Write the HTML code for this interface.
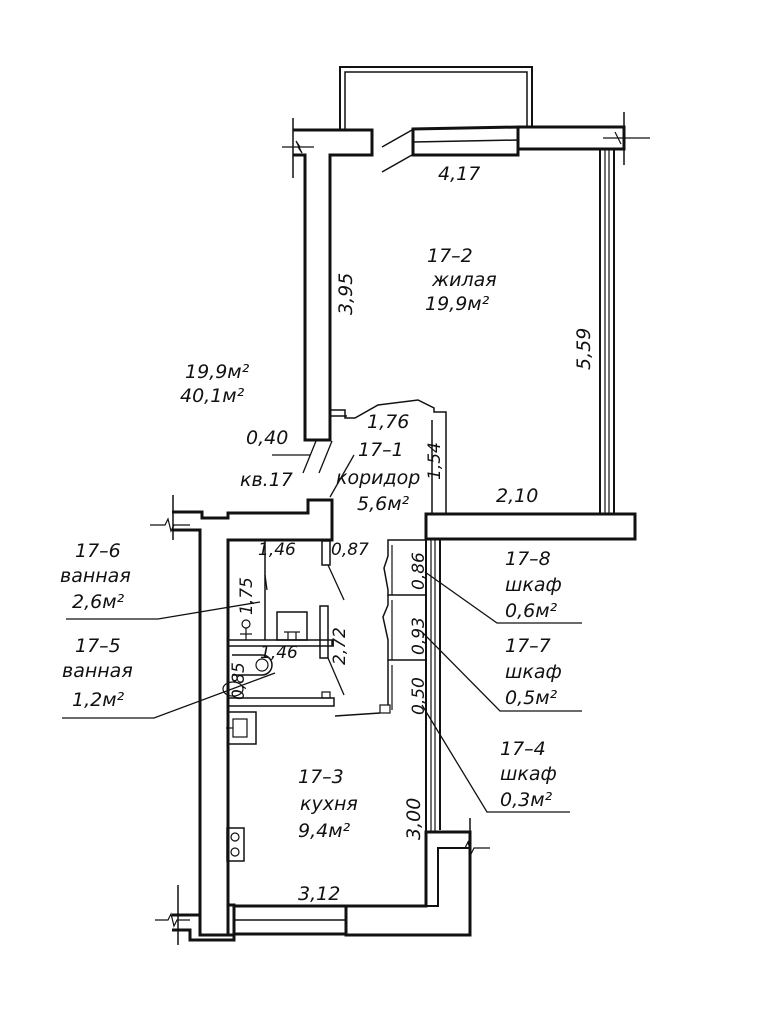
<!DOCTYPE html>
<html><head><meta charset="utf-8"><style>
body{margin:0;background:#fff}
svg{display:block}
text{font-family:"DejaVu Sans","Liberation Sans",sans-serif;font-style:italic;fill:#111}
</style></head><body>
<svg width="768" height="1024" viewBox="0 0 768 1024" xmlns="http://www.w3.org/2000/svg">
<rect width="768" height="1024" fill="#fff"/>
<g fill="none" stroke="#111" stroke-width="3">
<path d="M340 131 V67 H532 V126" stroke-width="2"/>
<path d="M345 131 V72 H527 V126" stroke-width="1.5"/>
<path d="M293 130 H372 V155 H330 V440 H305 V155 H293" fill="#fff"/>
<line x1="293" y1="118" x2="293" y2="178" stroke-width="1.5"/>
<path d="M282 147 H300 L296 141 L302 153 L298 147 H314" stroke-width="1.2"/>
<line x1="382" y1="147" x2="412" y2="130" stroke-width="1.5"/>
<line x1="382" y1="172" x2="412" y2="155" stroke-width="1.5"/>
<path d="M413 129 V155 H518 V127 Z" fill="#fff"/>
<line x1="413" y1="142" x2="518" y2="140" stroke-width="1.5"/>
<path d="M518 127 H624 V149 H518 Z" fill="#fff"/>
<line x1="624" y1="112" x2="624" y2="165" stroke-width="1.5"/>
<path d="M603 138 H618 L615 132 L621 144 L618 138 H650" stroke-width="1.2"/>
<line x1="600" y1="150" x2="600" y2="515" stroke-width="2"/>
<line x1="605" y1="150" x2="605" y2="515" stroke-width="1.2"/>
<line x1="609" y1="150" x2="609" y2="515" stroke-width="1.2"/>
<line x1="614" y1="150" x2="614" y2="515" stroke-width="2"/>
<rect x="426" y="514" width="209" height="25" fill="#fff"/>
<path d="M330 410 H345 V418 H355 L378 405 L418 400 L434 408 V412 H446 V514" stroke-width="1.5"/>
<path d="M432 420 V514" stroke-width="1.5"/>
<path d="M330 416 H347" stroke-width="1.5"/>
<path d="M172 512 H202 V518 H228 V513 H308 V500 H332 V540 H228 V935" />
<path d="M172 530 H200 V935"/>
<line x1="173" y1="495" x2="173" y2="540" stroke-width="1.5"/>
<path d="M150 525 H165 L168 519 L171 531 L174 525 H190" stroke-width="1.2"/>
<path d="M172 915 H200 V935 H234"/>
<path d="M172 930 H190 V940 H234 V905 H228"/>
<line x1="178" y1="885" x2="178" y2="945" stroke-width="1.5"/>
<path d="M155 920 H168 L171 914 L174 926 L177 920 H190" stroke-width="1.2"/>
<rect x="234" y="906" width="112" height="28" fill="#fff"/>
<line x1="234" y1="920" x2="346" y2="920" stroke-width="1.5"/>
<path d="M346 906 H426 V832 H470 V935 H346 Z" fill="#fff"/>
<path d="M426 832 V906 H438 V848 H470" stroke-width="2"/>
<line x1="470" y1="818" x2="470" y2="880" stroke-width="1.5"/>
<path d="M455 848 H465 L468 842 L471 854 L474 848 H490" stroke-width="1.2"/>
<line x1="426" y1="540" x2="426" y2="832" stroke-width="2"/>
<line x1="431" y1="540" x2="431" y2="832" stroke-width="1.2"/>
<line x1="435" y1="540" x2="435" y2="832" stroke-width="1.2"/>
<line x1="440" y1="540" x2="440" y2="830" stroke-width="2"/>
<line x1="265" y1="540" x2="265" y2="640" stroke-width="1.5"/>
<rect x="228" y="640" width="104" height="6" stroke-width="1.5"/>
<rect x="228" y="698" width="106" height="8" stroke-width="1.5"/>
<rect x="320" y="606" width="8" height="52" stroke-width="1.5"/>
<rect x="322" y="541" width="8" height="24" stroke-width="1.5"/>
<rect x="277" y="612" width="30" height="28" stroke-width="1.5"/>
<line x1="288" y1="632" x2="288" y2="640" stroke-width="1.2"/><line x1="296" y1="632" x2="296" y2="640" stroke-width="1.2"/><line x1="284" y1="632" x2="300" y2="632" stroke-width="1.2"/>
<circle cx="246" cy="624" r="4" stroke-width="1.2"/>
<line x1="246" y1="628" x2="246" y2="640" stroke-width="1.2"/><line x1="240" y1="634" x2="252" y2="634" stroke-width="1.2"/>
<path d="M232 655 H262 A9 9 0 0 1 262 675 H232" stroke-width="1.5"/>
<circle cx="262" cy="665" r="6" stroke-width="1.2"/>
<ellipse cx="233" cy="689" rx="10" ry="7" stroke-width="1.2"/>
<rect x="322" y="692" width="8" height="6" stroke-width="1.2"/>
<rect x="228" y="712" width="28" height="32" stroke-width="1.5"/>
<rect x="233" y="719" width="14" height="18" stroke-width="1.2"/>
<line x1="226" y1="728" x2="233" y2="728" stroke-width="1.2"/>
<rect x="227" y="828" width="17" height="33" stroke-width="1.5"/>
<circle cx="235" cy="837" r="4" stroke-width="1.2"/><circle cx="235" cy="852" r="4" stroke-width="1.2"/>
<path d="M426 540 H388 V556 L384 568 L388 590 V595 H426" stroke-width="1.5"/>
<path d="M392 545 V595" stroke-width="1.2"/>
<path d="M388 595 V605 L383 617 L388 640 V660 H426" stroke-width="1.5"/>
<path d="M392 600 V660 M392 665 V710" stroke-width="1.2"/>
<path d="M388 660 V705" stroke-width="1.5"/>
<rect x="380" y="705" width="10" height="8" stroke-width="1.2"/>
<line x1="335" y1="716" x2="380" y2="713" stroke-width="1.5"/>
<g stroke-width="1.3">
<line x1="272" y1="455" x2="310" y2="455"/>
<line x1="303" y1="473" x2="316" y2="441"/><line x1="319" y1="473" x2="332" y2="441"/>
<line x1="330" y1="497" x2="354" y2="455"/>
<line x1="328" y1="565" x2="344" y2="600"/>
<line x1="328" y1="658" x2="344" y2="695"/>
<line x1="265" y1="575" x2="267" y2="590"/>
<polyline points="66,619 158,619 260,602"/>
<polyline points="62,718 154,718 275,673"/>
<polyline points="582,623 497,623 425,572"/>
<polyline points="582,711 500,711 422,632"/>
<polyline points="570,812 487,812 422,705"/>
</g>
</g>
<g font-size="19">
<text x="438" y="180">4,17</text>
<text x="427" y="262">17–2</text>
<text x="432" y="286">жилая</text>
<text x="425" y="310">19,9м²</text>
<text x="185" y="378">19,9м²</text>
<text x="180" y="402">40,1м²</text>
<text x="246" y="444">0,40</text>
<text x="367" y="428">1,76</text>
<text x="358" y="456">17–1</text>
<text x="336" y="484">коридор</text>
<text x="357" y="510">5,6м²</text>
<text x="240" y="486">кв.17</text>
<text x="496" y="502">2,10</text>
<text x="258" y="555" font-size="17">1,46</text>
<text x="331" y="555" font-size="17">0,87</text>
<text x="260" y="658" font-size="17">1,46</text>
<text x="75" y="557">17–6</text>
<text x="60" y="582">ванная</text>
<text x="72" y="608">2,6м²</text>
<text x="75" y="652">17–5</text>
<text x="62" y="677">ванная</text>
<text x="72" y="706">1,2м²</text>
<text x="505" y="565">17–8</text>
<text x="505" y="591">шкаф</text>
<text x="505" y="617">0,6м²</text>
<text x="505" y="652">17–7</text>
<text x="505" y="678">шкаф</text>
<text x="505" y="704">0,5м²</text>
<text x="500" y="755">17–4</text>
<text x="500" y="780">шкаф</text>
<text x="500" y="806">0,3м²</text>
<text x="298" y="783">17–3</text>
<text x="300" y="810">кухня</text>
<text x="298" y="837">9,4м²</text>
<text x="298" y="900">3,12</text>
<text transform="translate(352,315) rotate(-90)">3,95</text>
<text transform="translate(590,370) rotate(-90)">5,59</text>
<text transform="translate(440,480) rotate(-90)" font-size="17">1,54</text>
<text transform="translate(252,615) rotate(-90)" font-size="17">1,75</text>
<text transform="translate(345,665) rotate(-90)" font-size="17">2,72</text>
<text transform="translate(424,590) rotate(-90)" font-size="17">0,86</text>
<text transform="translate(424,655) rotate(-90)" font-size="17">0,93</text>
<text transform="translate(424,715) rotate(-90)" font-size="17">0,50</text>
<text transform="translate(244,700) rotate(-90)" font-size="17">0,85</text>
<text transform="translate(420,840) rotate(-90)">3,00</text>
</g>
</svg>
</body></html>
